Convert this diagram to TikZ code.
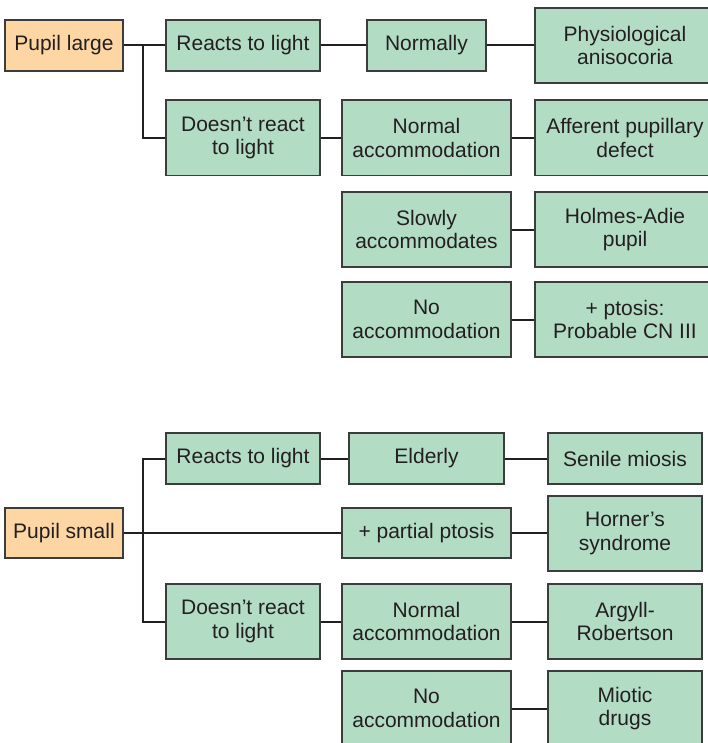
\documentclass[tikz,border=0pt]{standalone}
\usepackage{fontspec}
\setmainfont{Liberation Sans}
\usetikzlibrary{positioning}
\definecolor{boxgreen}{HTML}{B3DCC4}
\definecolor{boxorange}{HTML}{FDD6A3}
\definecolor{edgegray}{HTML}{3C3C3C}
\definecolor{inkdark}{HTML}{231F20}
\tikzset{
  box/.style={draw=edgegray, line width=1.2pt, fill=boxgreen, text=inkdark,
    align=center, inner sep=0pt, font=\fontsize{21}{23.5}\selectfont},
  startbox/.style={box, fill=boxorange},
  sz/.style 2 args={minimum width=#1pt, minimum height=#2pt},
  link/.style={draw=inkdark, line width=2pt},
}

\begin{document}
\begin{tikzpicture}[x=1pt, y=-1pt]
  \useasboundingbox (0,0) rectangle (708,743);
  \clip (0,0) rectangle (708,743);

  % pupil large
  \node[startbox, sz={118}{51}] (plarge) at (64,45.5) {Pupil large};
  \node[box, sz={154}{51}] (reactA) at (243,45.5) {Reacts to light};
  \node[box, sz={154}{75.5}] (noreactA) at (243,137.75) {Doesn’t react\\to light};
  \node[box, sz={119}{51}] (normally) at (426.5,45.5) {Normally};
  \node[box, sz={180}{75}] (physio) at (625,45.5) {Physiological\\anisocoria};
  \node[box, sz={169}{75.5}] (normaccA) at (426.5,137.75) {Normal\\accommodation};
  \node[box, sz={180}{75.5}] (afferent) at (625,137.75) {Afferent pupillary\\defect};
  \node[box, sz={169}{75}] (slowly) at (426.5,229.5) {Slowly\\accommodates};
  \node[box, sz={180}{75}] (holmes) at (625,229.5) {Holmes-Adie\\pupil};
  \node[box, sz={169}{75}] (noaccA) at (426.5,319.5) {No\\accommodation};
  \node[box, sz={180}{75}] (cniii) at (625,319.5) {+ ptosis:\\Probable CN III};

  % pupil small
  \node[startbox, sz={118}{50}] (psmall) at (64,533) {Pupil small};
  \node[box, sz={154}{51}] (reactB) at (243,458.5) {Reacts to light};
  \node[box, sz={154}{75}] (noreactB) at (243,621.5) {Doesn’t react\\to light};
  \node[box, sz={155}{51}] (elderly) at (426.5,458.5) {Elderly};
  \node[box, sz={154}{51}] (senile) at (625,458.5) {Senile miosis};
  \node[box, sz={169}{50}] (partial) at (426.5,533) {+ partial ptosis};
  \node[box, sz={154}{75}] (horner) at (625,533.5) {Horner’s\\syndrome};
  \node[box, sz={169}{75}] (normaccB) at (426.5,621.5) {Normal\\accommodation};
  \node[box, sz={154}{75}] (argyll) at (625,621.5) {Argyll-\\Robertson};
  \node[box, sz={169}{75}] (noaccB) at (426.5,708.5) {No\\accommodation};
  \node[box, sz={154}{75}] (miotic) at (625,708.5) {Miotic\\drugs};

  \coordinate (trunk) at (143,0);

  % connectors
  \draw[link] (plarge.east) -- (reactA.west);
  \draw[link] (trunk |- plarge.east) |- (noreactA.west);
  \draw[link] (reactA) -- (normally);
  \draw[link] (normally) -- (physio.west |- normally.east);
  \draw[link] (noreactA) -- (normaccA);
  \draw[link] (normaccA) -- (afferent);
  \draw[link] (slowly) -- (holmes);
  \draw[link] (noaccA) -- (cniii);

  \draw[link] (psmall) -- (partial);
  \draw[link] (reactB.west) -| (trunk |- noreactB.west) -- (noreactB.west);
  \draw[link] (reactB) -- (elderly);
  \draw[link] (elderly) -- (senile);
  \draw[link] (partial) -- (horner.west |- partial.east);
  \draw[link] (noreactB) -- (normaccB);
  \draw[link] (normaccB) -- (argyll);
  \draw[link] (noaccB) -- (miotic);
\end{tikzpicture}
\end{document}
